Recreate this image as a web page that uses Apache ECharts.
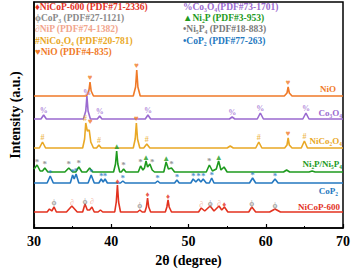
<!DOCTYPE html>
<html><head><meta charset="utf-8">
<script src="https://cdn.jsdelivr.net/npm/echarts@6/dist/echarts.min.js"></script>
<style>html,body{margin:0;padding:0;background:#fff}#c{width:353px;height:272px}</style>
</head><body><div id="c"></div>
<script>
// ---- data ----
const xTicks = [30, 40, 50, 60, 70];
const sampleNames = ['NiO', 'Co₃O₄', 'NiCo₂O₄', 'Ni₂P/Ni₅P₄', 'CoP₂', 'NiCoP-600'];
const offsets = [132, 109, 80, 56, 45, 16];

const nioPattern = [[30,0],[36.8,0],[37.1,5],[37.25,14],[37.4,5],[37.7,0],[42.85,0],[43.15,9],[43.3,26],[43.45,9],[43.75,0],[62.4,0],[62.75,3],[62.9,9],[63.05,3],[63.4,0],[70,0]];
const co3o4Pattern = [[30,0],[30.9,0],[31.25,4],[31.6,0],[36.4,0],[36.7,8],[36.85,23],[37.0,8],[37.3,0],[38.2,0],[38.5,3],[38.8,0],[44.4,0],[44.75,4],[45.1,0],[55.3,0],[55.65,2],[56.0,0],[58.9,0],[59.3,6],[59.7,0],[64.8,0],[65.2,6],[65.6,0],[70,0]];
const nico2o4Pattern = [[30,0],[30.7,0],[31.1,6],[31.5,0],[36.3,0],[36.55,9],[36.7,25],[36.9,17],[37.15,18],[37.35,6],[37.7,0],[38.1,0],[38.4,3],[38.7,0],[42.85,0],[43.1,9],[43.25,25],[43.4,9],[43.7,0],[44.2,0],[44.6,4],[45.0,0],[55.0,0],[55.4,2],[55.8,0],[58.7,0],[59.1,6],[59.5,0],[62.45,0],[62.75,3],[62.9,10],[63.05,3],[63.4,0],[64.6,0],[65.0,7],[65.4,0],[70,0]];
const ni2pPattern = [[30,3],[30.4,7],[30.8,1],[31.1,1],[31.4,4],[31.8,0],[34.0,0],[34.5,4],[35.0,0],[35.4,0],[35.8,5],[36.2,0],[36.8,0],[37.2,4],[37.6,0],[40.3,0],[40.55,8],[40.7,21],[40.85,8],[41.1,0],[41.3,0],[41.6,3],[41.9,0],[43.5,0],[43.8,6],[44.1,2],[44.3,4],[44.5,11],[44.7,5],[45.0,8],[45.3,2],[45.6,0],[46.8,0],[47.1,10],[47.4,3],[47.8,4],[48.2,0],[52.3,0],[52.7,7],[53.1,1],[53.6,3],[53.9,11],[54.2,2],[54.6,5],[55.0,0],[62.3,0],[62.7,2],[63.1,0],[65.6,0],[66.0,1],[66.4,0],[70,0]];
const cop2Pattern = [[30,0],[31.7,0],[32.1,7],[32.5,0],[34.7,0],[35.0,8],[35.2,4],[35.45,9],[35.8,0],[37.0,0],[37.4,8],[37.8,0],[38.4,0],[38.7,4],[38.95,1],[39.2,4],[39.5,0],[41.2,0],[41.5,2],[41.8,0],[45.7,0],[46.0,2],[46.3,0],[48.2,0],[48.5,3],[48.8,0],[50.3,0],[50.6,4],[50.95,1],[51.3,4],[51.6,1],[51.9,4],[52.3,0],[52.7,0],[53.0,5],[53.3,0],[57.9,0],[58.3,5],[58.7,0],[60.8,0],[61.2,4],[61.6,0],[70,0]];
const nicopPattern = [[30,0],[31.7,0],[32.0,3],[32.3,1],[32.6,5],[32.9,0],[34.2,0],[34.9,6],[35.6,0],[36.3,0],[36.6,8],[36.9,2],[37.2,2],[37.5,5],[37.8,0],[38.3,0],[38.6,2],[38.9,0],[40.45,0],[40.65,10],[40.8,27],[40.95,10],[41.2,0],[43.4,0],[43.7,2],[44.0,0],[44.35,0],[44.55,5],[44.7,14],[44.85,5],[45.1,0],[47.0,0],[47.2,5],[47.35,12],[47.5,5],[47.8,0],[51.3,0],[51.65,4],[52.1,1],[52.8,6],[53.3,1],[53.95,6],[54.3,2],[54.65,5],[55.1,0],[57.8,0],[58.2,5],[58.7,0],[60.5,0],[61.2,3],[61.9,0],[70,0]];

// peak markers: [2θ, height above baseline, symbol, phase]
const nioMarks = [[37.25,19,'♥','NiO'],[43.3,31,'♥','NiO'],[62.9,14,'♥','NiO']];
const co3o4Marks = [[31.25,9,'%','Co3O4'],[36.85,27,'%','Co3O4'],[38.5,8,'%','Co3O4'],[44.75,9,'%','Co3O4'],[55.65,7,'%','Co3O4'],[59.3,11,'%','Co3O4'],[65.2,11,'%','Co3O4']];
const nico2o4Marks = [[31.1,11,'#','NiCo2O4'],[36.6,30,'#','NiCo2O4'],[37.3,27,'♥','NiO'],[38.4,8,'#','NiCo2O4'],[43.25,30,'♥','NiO'],[44.6,9,'#','NiCo2O4'],[59.1,11,'#','NiCo2O4'],[62.9,15,'♥','NiO'],[65.0,12,'#','NiCo2O4']];
const ni2pMarks = [[40.7,26,'▲','Ni2P'],[44.5,15,'▲','Ni2P'],[47.1,14,'▲','Ni2P'],[53.9,15,'▲','Ni2P'],[30.4,10,'*','Ni5P4'],[31.4,8,'*','Ni5P4'],[34.5,8,'*','Ni5P4'],[35.8,9,'*','Ni5P4'],[41.6,7,'*','Ni5P4'],[43.8,10,'*','Ni5P4'],[45.3,10,'*','Ni5P4'],[47.8,8,'*','Ni5P4'],[52.7,11,'*','Ni5P4']];
const cop2Marks = [[32.1,10,'*','CoP2'],[35.0,11,'*','CoP2'],[35.45,12,'*','CoP2'],[37.4,11,'*','CoP2'],[38.7,7,'*','CoP2'],[39.2,7,'*','CoP2'],[41.5,5,'*','CoP2'],[46.0,5,'*','CoP2'],[48.5,6,'*','CoP2'],[50.6,7,'*','CoP2'],[51.3,7,'*','CoP2'],[51.9,7,'*','CoP2'],[53.0,8,'*','CoP2'],[58.3,8,'*','CoP2'],[61.2,7,'*','CoP2']];
const nicopMarks = [[32.6,10,'ϕ','CoP3'],[34.9,10,'∂','NiP'],[36.6,11,'ϕ','CoP3'],[37.5,11,'∂','NiP'],[40.8,31,'♦','NiCoP'],[43.7,7,'ϕ','CoP3'],[44.7,18,'♦','NiCoP'],[47.35,16,'♦','NiCoP'],[51.65,8,'∂','NiP'],[52.8,9,'ϕ','CoP3'],[53.95,9,'∂','NiP'],[54.65,8,'♦','NiCoP'],[58.2,9,'ϕ','CoP3'],[61.2,7,'ϕ','CoP3']];

const legendLeft = ['♦NiCoP-600 (PDF#71-2336)', 'ϕCoP₃ (PDF#27-1121)', '∂NiP (PDF#74-1382)', '#NiCo₂O₄ (PDF#20-781)', '♥NiO (PDF#4-835)'];
const legendLeftPhase = ['NiCoP', 'CoP3', 'NiP', 'NiCo2O4', 'NiO'];
const legendRight = ['%Co₃O₄(PDF#73-1701)', '▲Ni₂P (PDF#3-953)', '•Ni₅P₄ (PDF#18-883)', '•CoP₂ (PDF#77-263)'];
const legendRightPhase = ['Co3O4', 'Ni2P', 'Ni5P4', 'CoP2'];

// ---- styling ----
const phaseColor = {NiO:'#F07A28', Co3O4:'#9A6AD0', NiCo2O4:'#E9A825', Ni2P:'#1E9A1E', Ni5P4:'#7A7A7A', CoP2:'#2478C0', NiCoP:'#E3321F', CoP3:'#8A8A8A', NiP:'#F2A58C'};
const lineColors = ['#F07A28', '#9A6AD0', '#E9A825', '#1E9A1E', '#2478C0', '#E3321F'];
const patterns = [nioPattern, co3o4Pattern, nico2o4Pattern, ni2pPattern, cop2Pattern, nicopPattern];
const marks = [nioMarks, co3o4Marks, nico2o4Marks, ni2pMarks, cop2Marks, nicopMarks];
const labelPos = [[336,89],[342,113],[342,141],[342,164],[338,191],[340,207]];
const FONT = '"Liberation Serif","Times New Roman",serif';

const series = [];
patterns.forEach((p, i) => {
  series.push({
    type: 'line', name: sampleNames[i], showSymbol: false, symbol: 'none',
    lineStyle: {color: lineColors[i], width: 1.6}, z: 2,
    data: p.map(d => [d[0], d[1] + offsets[i]])
  });
  series.push({
    type: 'scatter', symbolSize: 0, z: 3, silent: true,
    data: marks[i].map(m => ({
      value: [m[0], m[1] + offsets[i]],
      label: {show: true, position: 'inside', formatter: m[2],
        color: phaseColor[m[3]], fontSize: m[2] === '*' ? 9 : 8, fontFamily: FONT, fontWeight: 'bold'}
    }))
  });
});

const graphics = [];
legendLeft.forEach((t, i) => graphics.push({type:'text', left: 35, top: 2 + i * 11.2,
  style:{text:t, fill: phaseColor[legendLeftPhase[i]], font: 'bold 9.5px ' + FONT}}));
legendRight.forEach((t, i) => graphics.push({type:'text', left: 183, top: 2 + i * 11.2,
  style:{text:t, fill: phaseColor[legendRightPhase[i]], font: 'bold 9.5px ' + FONT}}));
sampleNames.forEach((t, i) => graphics.push({type:'text', x: labelPos[i][0], y: labelPos[i][1],
  style:{text:t, fill: lineColors[i], font: 'bold 9px ' + FONT, align:'right', verticalAlign:'middle'}}));

const chart = echarts.init(document.getElementById('c'), null, {renderer: 'svg'});
chart.setOption({
  animation: false,
  grid: {left: 28, right: 8, top: 2, bottom: 44, show: true, borderColor: '#000', borderWidth: 1.5},
  xAxis: {
    type: 'value', min: 30, max: 70, interval: 10,
    name: '2θ (degree)', nameLocation: 'middle', nameGap: 25,
    nameTextStyle: {fontFamily: FONT, fontWeight: 'bold', fontSize: 14, color: '#000'},
    axisLine: {lineStyle: {color: '#000', width: 1.5}},
    axisTick: {inside: true, length: 4, lineStyle: {color: '#000', width: 1.2}},
    minorTick: {show: true, splitNumber: 2, length: 2, lineStyle: {color: '#000'}},
    axisLabel: {fontFamily: FONT, fontWeight: 'bold', fontSize: 14, color: '#000', margin: 6,
      formatter: v => xTicks.includes(v) ? String(v) : ''},
    splitLine: {show: false}
  },
  yAxis: {
    type: 'value', min: 0, max: 226,
    name: 'Intensity (a.u.)', nameLocation: 'middle', nameGap: 12,
    nameTextStyle: {fontFamily: FONT, fontWeight: 'bold', fontSize: 14, color: '#000'},
    axisLine: {show: true, lineStyle: {color: '#000', width: 1.5}},
    axisTick: {show: false}, axisLabel: {show: false}, splitLine: {show: false}
  },
  graphic: graphics,
  series: series
});
</script></body></html>
